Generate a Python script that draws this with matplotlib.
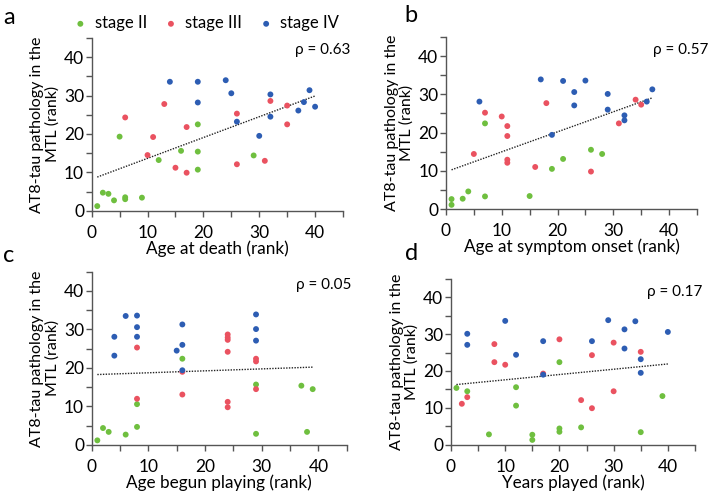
import numpy as np
import matplotlib
matplotlib.use("Agg")
import matplotlib.pyplot as plt
from matplotlib.ticker import MultipleLocator

plt.rcParams['font.family'] = ['Lato', 'DejaVu Sans']

GREEN = '#6fbf3f'
RED = '#ea5260'
BLUE = '#2d5db3'

# ---- Panel a: Age at death (rank)
a_green_x = [1, 2, 3, 4, 6, 6, 9, 5, 12, 16, 19, 19, 19, 29]
a_green_y = [1.2, 4.7, 4.4, 2.7, 3.0, 3.5, 3.4, 19.3, 13.2, 15.6, 22.5, 15.4, 10.7, 14.4]
a_red_x = [6, 10, 11, 13, 15, 17, 17, 26, 26, 31, 32, 35, 35]
a_red_y = [24.3, 14.5, 19.2, 27.8, 11.2, 21.8, 9.9, 25.3, 12.1, 13.0, 28.6, 27.4, 22.5]
a_blue_x = [14, 19, 19, 24, 25, 26, 32, 32, 30, 37, 38, 39, 40]
a_blue_y = [33.6, 33.6, 28.2, 34.0, 30.6, 23.2, 30.3, 24.5, 19.5, 26.1, 28.3, 31.4, 27.1]

# ---- Panel b: Age at symptom onset (rank)
b_green_x = [1, 1, 3, 4, 7, 7, 15, 19, 21, 26, 28]
b_green_y = [2.6, 1.1, 2.7, 4.6, 3.3, 22.4, 3.4, 10.5, 13.1, 15.5, 14.4]
b_red_x = [5, 7, 10, 11, 11, 11, 11, 16, 18, 26, 31, 34, 35]
b_red_y = [14.4, 25.2, 24.2, 21.7, 19.1, 12.9, 12.1, 11.0, 27.7, 9.8, 22.4, 28.6, 27.3]
b_blue_x = [6, 17, 19, 21, 23, 23, 25, 29, 29, 32, 32, 36, 37]
b_blue_y = [28.1, 33.9, 19.4, 33.5, 30.6, 27.1, 33.6, 30.1, 26.0, 24.5, 23.2, 28.1, 31.3]

# ---- Panel c: Age begun playing (rank)
c_green_x = [1, 2, 3, 6, 8, 8, 16, 29, 29, 37, 38, 39]
c_green_y = [1.2, 4.4, 3.4, 2.7, 4.7, 10.6, 22.4, 15.7, 2.9, 15.4, 3.4, 14.5]
c_red_x = [8, 8, 16, 16, 24, 24, 24, 24, 24, 24, 29, 29, 29]
c_red_y = [25.3, 12.0, 19.0, 13.1, 28.7, 27.9, 27.3, 24.2, 11.2, 9.8, 22.4, 21.7, 14.5]
c_blue_x = [4, 4, 6, 8, 8, 8, 15, 16, 16, 16, 29, 29, 29]
c_blue_y = [28.1, 23.2, 33.5, 33.6, 30.6, 28.1, 24.5, 31.3, 26.0, 19.4, 33.9, 30.1, 27.1]

# ---- Panel d: Years played (rank)
d_green_x = [1, 3, 7, 12, 12, 15, 15, 20, 20, 20, 24, 35, 39]
d_green_y = [15.4, 14.5, 2.8, 15.6, 10.6, 2.7, 1.3, 22.4, 4.4, 3.5, 4.7, 3.4, 13.2]
d_red_x = [2, 3, 8, 8, 10, 17, 20, 24, 26, 26, 30, 30, 35]
d_red_y = [11.1, 12.9, 27.3, 22.4, 21.7, 19.3, 28.6, 12.1, 24.3, 9.9, 27.7, 14.5, 25.2]
d_blue_x = [3, 3, 10, 12, 17, 17, 26, 29, 32, 32, 34, 35, 35, 40]
d_blue_y = [30.1, 27.1, 33.6, 24.4, 28.1, 19.0, 28.1, 33.8, 31.3, 26.1, 33.5, 23.2, 19.5, 30.6]

panels = [
    dict(letter='a', xlabel='Age at death (rank)', rho='ρ = 0.63',
         pos=[0.1293, 0.5726, 0.3545, 0.3503], rho_xy=(1.028, 0.93),
         g=(a_green_x, a_green_y), r=(a_red_x, a_red_y), b=(a_blue_x, a_blue_y)),
    dict(letter='b', xlabel='Age at symptom onset (rank)', rho='ρ = 0.57',
         pos=[0.629, 0.576, 0.354, 0.349], rho_xy=(1.045, 0.924),
         g=(b_green_x, b_green_y), r=(b_red_x, b_red_y), b=(b_blue_x, b_blue_y)),
    dict(letter='c', xlabel='Age begun playing (rank)', rho='ρ = 0.05',
         pos=[0.1293, 0.0974, 0.3597, 0.3515], rho_xy=(1.02, 0.924),
         g=(c_green_x, c_green_y), r=(c_red_x, c_red_y), b=(c_blue_x, c_blue_y)),
    dict(letter='d', xlabel='Years played (rank)', rho='ρ = 0.17',
         pos=[0.6361, 0.098, 0.3441, 0.3363], rho_xy=(1.03, 0.92),
         g=(d_green_x, d_green_y), r=(d_red_x, d_red_y), b=(d_blue_x, d_blue_y)),
]

letter_pos = {'a': (0.004, 0.965), 'b': (0.571, 0.968), 'c': (0.004, 0.482), 'd': (0.571, 0.486)}

fig = plt.figure(figsize=(7.09, 4.93), dpi=100)
handles = None
for p in panels:
    ax = fig.add_axes(p['pos'])
    hs = []
    for key, col, lab in [('g', GREEN, 'stage II'), ('r', RED, 'stage III'), ('b', BLUE, 'stage IV')]:
        x, y = p[key]
        h = ax.scatter(x, y, s=18, color=col, edgecolors='none', label=lab, zorder=3)
        hs.append(h)
    if handles is None:
        handles = hs
    allx = np.concatenate([p['g'][0], p['r'][0], p['b'][0]]).astype(float)
    ally = np.concatenate([p['g'][1], p['r'][1], p['b'][1]]).astype(float)
    k, c0 = np.polyfit(allx, ally, 1)
    xs = np.array([allx.min(), allx.max()])
    ax.plot(xs, k * xs + c0, linestyle=(0, (1, 1)), color='#222222', lw=1.0, zorder=2)
    ax.set_xlim(0, 45)
    ax.set_ylim(0, 45)
    ax.xaxis.set_major_locator(MultipleLocator(10))
    ax.xaxis.set_minor_locator(MultipleLocator(5))
    ax.yaxis.set_major_locator(MultipleLocator(10))
    ax.yaxis.set_minor_locator(MultipleLocator(5))
    for s in ['top', 'right']:
        ax.spines[s].set_visible(False)
    for s in ['left', 'bottom']:
        ax.spines[s].set_color('#555555')
        ax.spines[s].set_linewidth(1.0)
    ax.tick_params(which='both', direction='out', length=4, width=1.0, color='#555555',
                   labelsize=12.5)
    ax.tick_params(axis='x', which='both', pad=6)
    ax.tick_params(axis='y', which='both', pad=1.5)
    ax.set_xlabel(p['xlabel'], fontsize=12.3, labelpad=0)
    ax.set_ylabel('AT8-tau pathology in the\nMTL (rank)', fontsize=11.5, labelpad=3,
                  linespacing=1.1)
    ax.text(p['rho_xy'][0], p['rho_xy'][1], p['rho'], transform=ax.transAxes,
            ha='right', va='center', fontsize=11)
    lx, ly = letter_pos[p['letter']]
    fig.text(lx, ly, p['letter'], fontsize=17, ha='left', va='center')

fig.legend(handles=handles, labels=['stage II', 'stage III', 'stage IV'], ncol=3,
           loc='center', bbox_to_anchor=(0.29, 0.953), frameon=False, fontsize=12,
           handletextpad=0.35, columnspacing=0.95, markerscale=1.0, handlelength=1.0)

fig.savefig('out.png', dpi=100)
